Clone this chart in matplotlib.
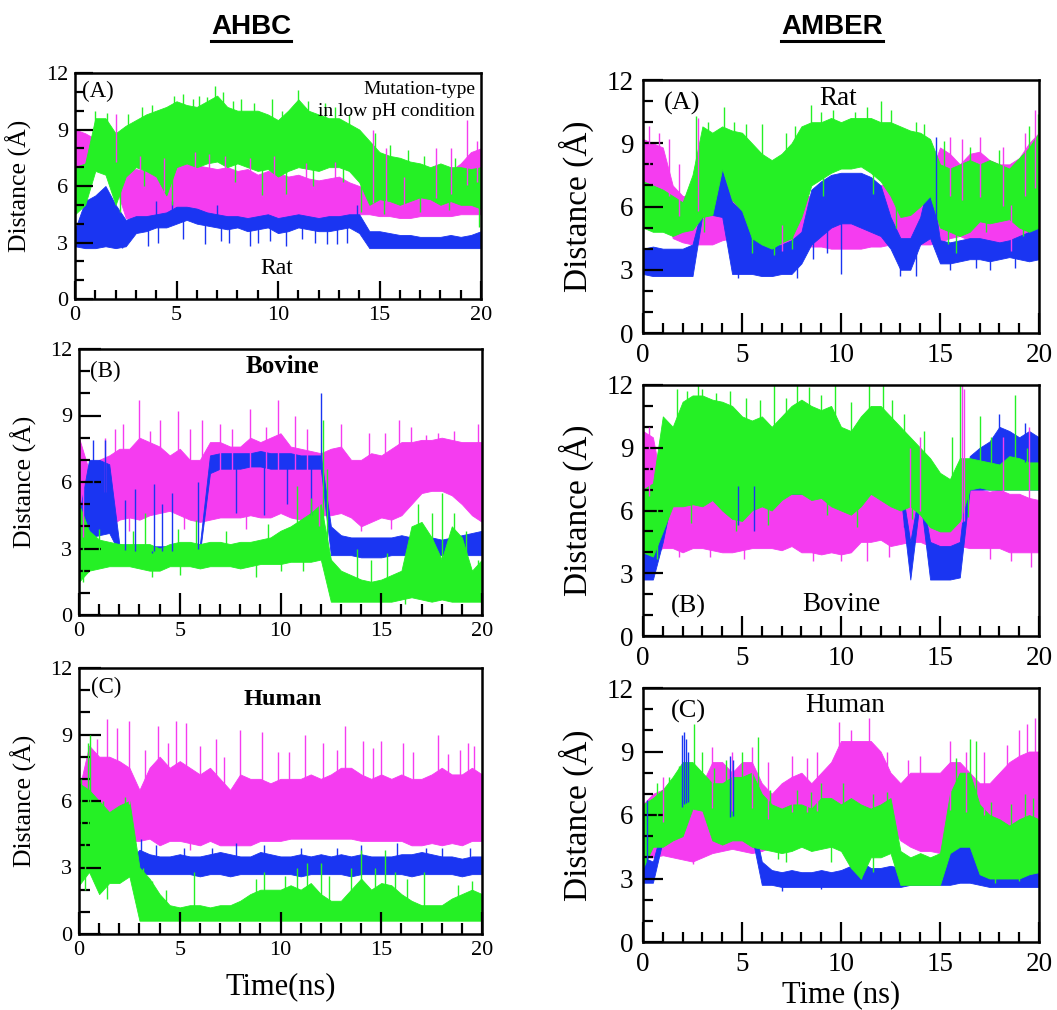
import numpy as np
import matplotlib.pyplot as plt
from matplotlib.lines import Line2D
from matplotlib.ticker import MultipleLocator

plt.rcParams['font.family'] = 'Liberation Serif'

BLUE = '#1a35f2'
MAGENTA = '#f53cf0'
GREEN = '#25f025'

# sampling of the traces (ns), every 0.5 ns
time = np.arange(0, 20.01, 0.5)

# ---------------- AHBC, Rat (A) ----------------
ahbc_rat_blue_lo = [2.8, 2.7, 2.7, 2.8, 2.7, 2.8, 3.5, 3.6, 3.8, 3.8,
                    4.0, 4.2, 4.0, 3.9, 3.8, 3.7, 3.8, 3.6, 3.7, 3.8,
                    3.5, 3.6, 3.8, 3.7, 3.6, 3.6, 3.7, 3.8, 3.5, 2.7,
                    2.7, 2.7, 2.7, 2.7, 2.7, 2.7, 2.7, 2.7, 2.7, 2.7, 2.7]
ahbc_rat_blue_hi = [3.7, 5.2, 5.5, 6.0, 5.0, 4.2, 4.4, 4.4, 4.5, 4.6,
                    4.9, 4.9, 4.8, 4.6, 4.5, 4.4, 4.4, 4.3, 4.4, 4.5,
                    4.3, 4.4, 4.5, 4.4, 4.3, 4.4, 4.4, 4.5, 4.5, 3.6,
                    3.6, 3.5, 3.4, 3.4, 3.3, 3.3, 3.3, 3.4, 3.3, 3.4, 3.6]
ahbc_rat_blue_spk = [(2.3, 2.7), (3.6, 2.8), (4.1, 3.0), (6.4, 2.9), (7.6, 3.0),
                     (8.6, 2.8), (9.0, 3.0), (10.4, 2.8), (11.2, 3.2), (12.4, 2.9),
                     (12.9, 2.9), (13.4, 3.0), (5.3, 3.2), (7.2, 3.1), (9.6, 3.1),
                     (11.8, 3.0), (4.0, 5.2), (4.8, 5.2), (7.0, 5.0), (13.9, 5.0)]
ahbc_rat_mag_lo = [7.0, 7.0, 7.2, 7.2, 6.0, 4.3, 4.2, 4.2, 4.2, 4.4,
                   4.6, 4.5, 4.4, 4.3, 4.3, 4.2, 4.2, 4.2, 4.2, 4.3,
                   4.2, 4.2, 4.3, 4.3, 4.2, 4.2, 4.3, 4.3, 4.5, 4.5,
                   4.4, 4.4, 4.3, 4.3, 4.4, 4.4, 4.4, 4.4, 4.5, 4.5, 4.5]
ahbc_rat_mag_hi = [9.0, 8.8, 8.5, 8.5, 8.5, 6.8, 6.9, 6.8, 6.8, 7.0,
                   7.0, 7.2, 7.1, 7.0, 6.9, 7.0, 6.8, 6.9, 6.6, 6.8,
                   6.7, 6.5, 6.6, 6.4, 6.3, 6.4, 6.5, 6.2, 6.0, 5.8,
                   5.6, 5.4, 5.4, 5.5, 5.8, 6.2, 6.4, 6.8, 7.2, 7.8, 8.0]
ahbc_rat_mag_spk = [(2.0, 9.8), (5.9, 7.8), (7.4, 7.6), (14.7, 9.0), (15.3, 8.0),
                    (17.8, 8.0), (19.3, 9.5), (19.8, 8.4), (3.2, 7.6), (4.4, 7.5),
                    (6.6, 7.7), (8.6, 7.5), (9.8, 7.6), (11.4, 7.2), (12.8, 7.3),
                    (16.2, 6.5), (18.5, 8.0)]
ahbc_rat_green_lo = [4.5, 5.0, 6.8, 6.6, 5.0, 6.5, 7.0, 6.8, 6.5, 5.5,
                     7.0, 7.2, 7.0, 7.2, 7.3, 7.0, 7.2, 7.0, 6.8, 6.9,
                     6.5, 6.8, 7.0, 6.9, 6.8, 7.0, 7.0, 6.8, 6.2, 5.0,
                     5.3, 5.2, 5.0, 5.2, 5.4, 5.3, 5.0, 5.2, 5.0, 5.0, 4.8]
ahbc_rat_green_hi = [7.0, 7.2, 9.6, 9.6, 8.8, 9.2, 9.5, 9.8, 10.0, 10.2,
                     10.5, 10.3, 10.2, 10.5, 10.8, 10.2, 10.0, 10.0, 10.0, 9.8,
                     9.5, 10.0, 10.6, 10.0, 9.8, 9.6, 9.6, 9.3, 9.0, 8.4,
                     7.8, 7.6, 7.5, 7.3, 7.2, 7.0, 7.2, 7.0, 7.0, 6.9, 7.0]
ahbc_rat_green_spk = [(4.9, 10.8), (6.1, 10.8), (6.9, 11.3), (7.3, 11.0), (9.7, 10.6),
                      (11.0, 11.1), (12.3, 10.4), (14.8, 8.8), (1.0, 10.0), (1.6, 9.9),
                      (2.6, 9.8), (3.3, 10.2), (3.8, 10.3), (5.3, 10.9), (5.8, 10.6),
                      (6.5, 10.7), (7.8, 10.5), (8.2, 10.6), (8.8, 10.4), (10.2, 10.0),
                      (11.5, 10.5), (12.8, 10.2), (13.5, 9.8), (15.5, 8.2), (16.4, 7.9),
                      (17.2, 7.6), (18.7, 7.5),
                      (4.8, 5.0), (9.2, 5.5), (10.4, 5.6), (14.1, 4.6), (19.9, 3.8),
                      (2.2, 4.6), (3.4, 6.0), (7.9, 6.2), (11.7, 6.0), (13.2, 6.2),
                      (15.2, 4.5), (17.0, 4.6), (18.4, 4.7)]

# ---------------- AHBC, Bovine (B) ----------------
ahbc_bov_blue_lo = [3.5, 3.5, 3.6, 3.7, 2.8, 2.7, 2.7, 2.7, 2.7, 2.7,
                    2.7, 2.7, 2.8, 6.4, 6.6, 6.6, 6.6, 6.7, 6.7, 6.6,
                    6.6, 6.6, 6.6, 6.6, 6.6, 2.7, 2.7, 2.7, 2.6, 2.6,
                    2.6, 2.7, 2.7, 2.7, 2.7, 2.7, 2.7, 2.7, 2.7, 2.7, 2.7]
ahbc_bov_blue_hi = [4.5, 7.0, 7.0, 6.8, 3.2, 3.1, 3.1, 3.1, 3.1, 3.1,
                    3.1, 3.1, 3.2, 7.2, 7.3, 7.3, 7.3, 7.3, 7.4, 7.3,
                    7.3, 7.3, 7.2, 7.2, 7.2, 4.0, 3.6, 3.5, 3.5, 3.5,
                    3.5, 3.5, 3.6, 3.5, 3.5, 3.5, 3.4, 3.5, 3.6, 3.7, 3.8]
ahbc_bov_blue_spk = [(3.6, 2.8), (4.6, 5.5), (5.9, 6.0), (2.3, 5.2), (2.8, 5.7),
                     (3.7, 5.9), (4.1, 5.0), (7.8, 4.6), (9.2, 4.5), (10.3, 5.0),
                     (11.5, 4.5), (12.0, 10.0), (1.3, 7.9), (0.7, 7.9)]
ahbc_bov_mag_lo = [4.5, 4.3, 4.0, 4.0, 4.3, 4.4, 4.3, 4.5, 4.6, 4.7,
                   4.5, 4.3, 4.2, 4.3, 4.4, 4.4, 4.4, 4.5, 4.4, 4.4,
                   4.6, 4.4, 4.3, 4.4, 4.5, 4.5, 4.6, 4.4, 4.0, 4.2,
                   4.4, 4.3, 4.5, 5.0, 5.5, 5.6, 5.6, 5.4, 5.0, 4.5, 4.2]
ahbc_bov_mag_hi = [8.0, 6.5, 7.0, 7.2, 7.5, 7.5, 8.0, 7.8, 7.6, 7.2,
                   7.5, 7.0, 7.0, 7.8, 7.8, 7.6, 7.6, 8.0, 7.8, 8.0,
                   8.2, 7.6, 7.5, 7.4, 7.3, 7.5, 7.6, 7.0, 7.0, 7.3,
                   7.2, 7.5, 7.8, 7.8, 7.9, 7.9, 8.0, 7.9, 7.8, 7.8, 7.8]
ahbc_bov_mag_spk = [(1.3, 8.0), (2.2, 8.6), (3.0, 9.7), (4.0, 8.8), (4.9, 9.2),
                    (6.1, 8.8), (8.5, 9.3), (9.9, 9.7), (10.7, 9.0), (13.0, 8.6),
                    (15.9, 8.8), (16.5, 8.5), (17.8, 8.2), (19.8, 8.6), (1.8, 8.4),
                    (3.5, 8.3), (5.5, 8.4), (7.0, 8.6), (7.6, 8.4), (9.3, 8.5),
                    (11.3, 8.4), (14.4, 8.2), (15.2, 8.2), (17.2, 8.1), (18.6, 8.3),
                    (0.2, 3.5), (14.0, 3.8), (2.5, 3.8), (5.2, 3.9), (8.3, 3.9),
                    (11.9, 4.0), (15.5, 3.9)]
ahbc_bov_green_lo = [1.5, 2.0, 2.1, 2.2, 2.2, 2.2, 2.1, 2.0, 2.0, 2.2,
                     2.2, 2.2, 2.1, 2.2, 2.2, 2.2, 2.1, 2.2, 2.3, 2.3,
                     2.3, 2.4, 2.4, 2.4, 2.5, 0.6, 0.6, 0.6, 0.6, 0.6,
                     0.6, 0.6, 0.7, 0.8, 0.7, 0.6, 0.7, 0.6, 0.6, 0.6, 0.6]
ahbc_bov_green_hi = [5.0, 3.8, 3.4, 3.3, 3.2, 3.2, 3.2, 3.2, 3.0, 3.2,
                     3.3, 3.3, 3.2, 3.3, 3.3, 3.2, 3.3, 3.3, 3.4, 3.5,
                     3.8, 4.0, 4.3, 4.6, 5.0, 2.5, 2.0, 1.8, 1.6, 1.5,
                     1.6, 1.8, 2.0, 4.0, 4.2, 3.5, 2.5, 4.0, 3.5, 2.0, 2.5]
ahbc_bov_green_spk = [(3.3, 4.6), (5.8, 4.3), (10.8, 5.8), (11.5, 5.3), (12.1, 8.8),
                      (12.3, 6.6), (13.8, 3.0), (15.3, 2.8), (18.0, 5.5), (17.5, 4.6),
                      (19.8, 2.5), (1.0, 3.9), (2.7, 3.8), (4.9, 3.9), (7.3, 3.8),
                      (9.4, 4.1), (14.5, 2.5), (16.8, 5.0), (18.6, 4.6), (19.2, 3.8),
                      (0.2, 1.5), (3.6, 1.7), (8.8, 1.7), (16.2, 0.5), (5.0, 1.8),
                      (10.0, 2.0), (11.1, 2.0)]

# ---------------- AHBC, Human (C) ----------------
ahbc_hum_blue_lo = [3.5, 2.8, 2.7, 2.7, 2.7, 2.7, 2.7, 2.7, 2.7, 2.7,
                    2.7, 2.7, 2.6, 2.7, 2.7, 2.6, 2.7, 2.7, 2.7, 2.7,
                    2.7, 2.7, 2.6, 2.7, 2.7, 2.7, 2.7, 2.6, 2.7, 2.7,
                    2.7, 2.7, 2.7, 2.6, 2.7, 2.7, 2.7, 2.7, 2.6, 2.7, 2.7]
ahbc_hum_blue_hi = [6.5, 4.0, 3.3, 3.3, 3.3, 3.3, 3.8, 3.6, 3.5, 3.5,
                    3.6, 3.5, 3.5, 3.6, 3.7, 3.6, 3.5, 3.5, 3.7, 3.6,
                    3.5, 3.5, 3.6, 3.5, 3.6, 3.5, 3.6, 3.5, 3.6, 3.5,
                    3.5, 3.5, 3.6, 3.6, 3.7, 3.6, 3.5, 3.5, 3.4, 3.5, 3.5]
ahbc_hum_blue_spk = [(3.1, 4.3), (3.8, 4.0), (7.8, 4.1), (9.2, 4.0), (11.0, 3.9),
                     (14.0, 4.0), (15.8, 4.1), (18.0, 3.9), (5.2, 3.9), (6.6, 3.9),
                     (12.8, 3.9), (17.2, 3.9), (19.4, 3.9)]
ahbc_hum_mag_lo = [5.0, 4.5, 4.2, 4.2, 4.5, 4.2, 4.2, 4.3, 4.0, 4.2,
                   4.2, 4.1, 4.0, 4.2, 4.0, 4.0, 4.0, 4.0, 4.2, 4.2,
                   4.2, 4.3, 4.3, 4.3, 4.3, 4.3, 4.3, 4.3, 4.2, 4.2,
                   4.2, 4.2, 4.2, 4.0, 4.0, 4.1, 4.0, 4.1, 4.0, 4.2, 4.2]
ahbc_hum_mag_hi = [6.5, 8.5, 8.0, 8.0, 7.8, 7.5, 6.5, 7.5, 8.0, 7.5,
                   7.8, 7.5, 7.2, 7.5, 7.0, 6.5, 7.2, 7.0, 7.0, 6.8,
                   7.0, 7.0, 7.0, 7.2, 7.0, 7.2, 7.5, 7.5, 7.2, 7.0,
                   7.2, 7.0, 7.2, 7.0, 7.0, 7.2, 7.5, 7.2, 7.2, 7.5, 7.2]
ahbc_hum_mag_spk = [(1.4, 9.7), (1.9, 9.3), (2.5, 9.6), (3.9, 9.4), (4.8, 9.6),
                    (5.3, 9.5), (6.0, 8.5), (6.8, 8.8), (8.0, 9.2), (9.1, 9.1),
                    (9.9, 8.2), (11.2, 9.0), (12.1, 8.6), (13.2, 9.4), (14.1, 8.7),
                    (15.0, 8.7), (16.1, 8.6), (17.8, 9.0), (19.3, 8.6), (19.6, 8.5),
                    (0.9, 8.8), (3.3, 8.3), (4.4, 8.6), (7.2, 8.0), (10.4, 8.2),
                    (12.8, 8.3), (14.6, 8.4), (16.6, 8.2), (18.3, 8.1), (18.9, 8.3),
                    (5.5, 3.8), (9.0, 4.5), (13.1, 4.5), (17.8, 4.6)]
ahbc_hum_green_lo = [2.2, 2.8, 1.8, 2.3, 2.3, 2.6, 0.6, 0.6, 0.6, 0.6,
                     0.6, 0.6, 0.6, 0.6, 0.6, 0.6, 0.6, 0.6, 0.6, 0.6,
                     0.6, 0.6, 0.6, 0.6, 0.6, 0.6, 0.6, 0.6, 0.6, 0.6,
                     0.6, 0.6, 0.6, 0.6, 0.6, 0.6, 0.6, 0.6, 0.6, 0.6, 0.6]
ahbc_hum_green_hi = [6.8, 6.5, 6.0, 5.5, 5.8, 6.0, 3.0, 2.5, 1.8, 1.3,
                     1.2, 1.3, 1.3, 1.2, 1.3, 1.3, 1.5, 1.8, 2.0, 2.0,
                     2.0, 2.2, 2.0, 2.3, 1.8, 1.5, 1.5, 2.0, 2.5, 2.0,
                     2.3, 2.2, 1.8, 1.5, 1.3, 1.3, 1.3, 1.6, 1.8, 2.0, 1.8]
ahbc_hum_green_spk = [(0.55, 9.0), (0.45, 8.6), (0.1, 7.0), (1.2, 6.0), (2.3, 6.2),
                      (3.2, 3.0), (5.7, 2.8), (9.2, 2.8), (10.8, 3.0), (11.3, 3.2),
                      (12.0, 3.2), (14.0, 3.8), (15.2, 3.8), (14.7, 3.0), (17.1, 2.8),
                      (3.6, 2.4), (4.3, 2.0), (8.8, 2.5), (10.2, 2.6), (12.4, 2.6),
                      (13.5, 3.0), (15.7, 2.8), (16.3, 2.5), (18.8, 2.2), (19.5, 2.4),
                      (1.4, 1.6), (0.3, 2.0)]

# ---------------- AMBER, Rat (A) ----------------
amber_rat_blue_lo = [2.8, 2.7, 2.7, 2.7, 2.7, 2.7, 5.6, 5.6, 5.5, 2.8,
                     2.8, 2.8, 2.7, 2.7, 2.8, 2.8, 3.3, 4.2, 4.6, 5.0,
                     5.2, 5.2, 5.0, 4.8, 4.6, 4.0, 3.0, 3.0, 4.2, 4.5,
                     3.3, 3.3, 3.4, 3.5, 3.5, 3.4, 3.5, 3.6, 3.5, 3.4, 3.5]
amber_rat_blue_hi = [4.0, 4.1, 4.0, 4.0, 4.0, 4.2, 6.0, 6.0, 7.8, 6.2,
                     5.8, 4.6, 4.2, 4.1, 4.2, 4.4, 4.8, 6.8, 7.2, 7.5,
                     7.6, 7.6, 7.6, 7.4, 7.0, 5.5, 4.5, 4.5, 5.5, 7.5,
                     4.4, 4.3, 4.4, 4.5, 4.5, 4.4, 4.3, 4.4, 4.6, 4.8, 5.2]
amber_rat_blue_spk = [(10.0, 2.8), (13.0, 2.7), (13.8, 2.7), (17.5, 3.0), (14.8, 9.3),
                      (8.6, 3.5), (9.3, 3.8), (4.8, 2.6), (7.8, 2.6), (15.5, 3.0),
                      (16.8, 3.1), (18.8, 3.1)]
amber_rat_mag_lo = [6.8, 6.8, 6.5, 4.5, 4.3, 4.2, 4.2, 4.2, 4.4, 4.5,
                    4.5, 4.3, 4.3, 4.3, 4.2, 4.2, 4.2, 4.1, 4.1, 4.0,
                    4.0, 4.0, 4.0, 4.1, 4.1, 4.2, 4.2, 4.3, 4.2, 4.2,
                    4.3, 4.5, 4.6, 4.4, 4.3, 4.2, 4.1, 4.0, 4.2, 4.4, 4.5]
amber_rat_mag_hi = [9.2, 9.0, 8.8, 7.0, 6.5, 6.5, 8.0, 7.0, 7.5, 6.5,
                    6.5, 6.2, 5.5, 5.5, 6.0, 6.5, 6.5, 6.5, 6.5, 6.5,
                    6.5, 6.5, 6.5, 6.8, 7.0, 7.2, 7.0, 7.0, 7.5, 7.5,
                    8.8, 8.5, 8.0, 8.5, 8.6, 8.2, 8.0, 8.0, 8.3, 9.0, 9.5]
amber_rat_mag_spk = [(0.3, 9.8), (1.3, 9.2), (2.8, 10.2), (15.5, 9.3), (17.0, 9.3),
                     (19.8, 10.6), (0.8, 9.5), (1.8, 8.0), (16.1, 9.2), (18.2, 8.8),
                     (19.3, 9.5), (7.0, 3.9), (18.6, 3.9)]
amber_rat_green_lo = [5.0, 4.8, 4.8, 4.6, 4.8, 4.9, 5.5, 5.6, 7.8, 6.3,
                      5.8, 4.5, 4.2, 4.0, 4.3, 4.5, 5.5, 7.0, 7.3, 7.6,
                      7.8, 7.8, 7.9, 7.6, 7.2, 6.5, 5.5, 5.6, 6.0, 6.5,
                      5.0, 4.8, 4.6, 4.8, 5.3, 5.2, 5.3, 5.4, 5.0, 4.8, 5.0]
amber_rat_green_hi = [7.2, 7.0, 6.8, 6.5, 6.2, 7.5, 9.8, 9.5, 9.8, 9.6,
                      9.5, 9.0, 8.5, 8.2, 8.5, 9.0, 9.8, 10.0, 10.0, 10.2,
                      10.0, 10.2, 10.2, 10.2, 10.0, 10.0, 9.8, 9.6, 9.5, 9.2,
                      8.0, 7.8, 8.0, 8.2, 8.0, 8.2, 8.0, 7.8, 8.3, 8.8, 9.5]
amber_rat_green_spk = [(2.7, 10.3), (4.1, 10.7), (6.0, 9.9), (8.5, 10.8), (10.7, 10.5),
                       (12.0, 11.0), (13.8, 10.0), (19.95, 10.4), (3.3, 10.0), (4.6, 10.0),
                       (5.2, 9.9), (7.2, 9.5), (7.7, 9.8), (9.0, 10.5), (9.6, 10.6),
                       (11.3, 10.7), (12.5, 10.6), (14.2, 9.9), (15.2, 9.1), (16.5, 8.8),
                       (18.0, 8.7), (19.5, 9.8),
                       (6.6, 3.7), (15.8, 3.8), (3.1, 4.8), (5.5, 3.8), (7.5, 4.0),
                       (9.1, 6.5), (11.6, 6.6), (12.8, 5.0), (15.4, 4.2), (17.3, 4.8),
                       (19.2, 4.6)]

# ---------------- AMBER, Bovine (B) ----------------
amber_bov_blue_lo = [2.7, 2.7, 4.5, 6.8, 6.8, 6.8, 6.8, 6.8, 6.8, 6.8,
                     6.8, 6.8, 6.8, 6.8, 6.8, 6.8, 6.8, 6.8, 6.8, 6.8,
                     6.8, 6.8, 6.8, 6.8, 6.8, 6.8, 6.8, 2.7, 6.6, 2.7,
                     2.7, 2.7, 2.8, 7.0, 7.0, 7.0, 7.0, 7.0, 7.0, 7.0, 7.0]
amber_bov_blue_hi = [4.2, 4.2, 5.5, 7.5, 7.5, 7.5, 7.5, 7.5, 7.5, 7.5,
                     7.5, 7.5, 7.5, 7.5, 7.5, 7.5, 7.5, 7.5, 7.5, 7.5,
                     7.5, 7.5, 7.5, 7.5, 7.5, 7.5, 7.5, 4.5, 7.2, 4.5,
                     4.3, 4.3, 4.5, 8.6, 9.0, 9.3, 10.0, 9.8, 9.5, 9.8, 9.5]
amber_bov_blue_spk = [(5.6, 5.0), (13.2, 5.2), (18.0, 10.6), (19.3, 10.2), (4.8, 5.3)]
amber_bov_mag_lo = [3.5, 4.0, 4.2, 4.2, 4.0, 4.2, 4.2, 4.1, 4.0, 4.0,
                    4.1, 4.2, 4.2, 4.2, 4.1, 4.3, 4.0, 4.0, 3.9, 4.0,
                    3.9, 4.0, 4.5, 4.5, 4.6, 4.3, 4.4, 4.5, 4.5, 4.3,
                    4.3, 4.2, 4.3, 4.2, 4.2, 4.2, 4.2, 4.0, 4.0, 4.0, 4.0]
amber_bov_mag_hi = [9.8, 9.5, 7.0, 6.5, 6.5, 6.8, 6.8, 6.8, 6.5, 6.2,
                    6.5, 6.8, 6.5, 6.2, 6.5, 7.0, 7.2, 7.0, 6.8, 6.5,
                    6.3, 6.2, 6.6, 7.2, 7.5, 7.0, 7.0, 7.2, 7.5, 7.0,
                    6.0, 6.0, 6.5, 7.0, 7.0, 6.9, 7.0, 6.8, 6.8, 6.6, 6.5]
amber_bov_mag_spk = [(16.1, 12.0), (16.2, 11.8), (14.0, 9.5), (13.5, 9.0), (19.5, 10.0),
                     (18.2, 9.5), (0.3, 10.0), (19.6, 3.3), (11.3, 3.6), (10.0, 3.6),
                     (1.8, 3.8), (3.4, 3.8), (5.1, 3.7), (8.6, 3.6), (12.4, 3.8),
                     (17.5, 3.7), (18.6, 3.6)]
amber_bov_green_lo = [4.0, 3.8, 5.0, 6.2, 6.2, 6.3, 6.2, 6.5, 6.0, 5.6,
                      5.5, 6.0, 6.2, 6.0, 6.5, 6.8, 6.8, 6.5, 6.6, 6.2,
                      6.0, 5.8, 6.2, 6.8, 6.5, 6.2, 6.0, 6.2, 5.8, 5.2,
                      5.0, 5.0, 5.5, 7.0, 7.1, 7.0, 7.0, 7.0, 7.0, 7.0, 7.0]
amber_bov_green_hi = [7.0, 7.3, 10.5, 10.0, 11.2, 11.5, 11.5, 11.3, 11.2, 11.0,
                      10.5, 10.3, 10.5, 10.0, 10.5, 11.0, 11.3, 11.0, 10.8, 11.0,
                      10.0, 9.8, 10.5, 11.0, 11.0, 10.5, 10.0, 9.5, 9.0, 8.5,
                      7.8, 7.5, 8.5, 8.5, 8.4, 8.3, 8.2, 8.6, 8.5, 8.3, 8.3]
amber_bov_green_spk = [(1.7, 11.8), (2.8, 12.0), (3.0, 11.8), (6.6, 12.0), (7.8, 12.0),
                       (9.7, 12.0), (11.4, 12.0), (12.1, 12.0), (16.0, 12.0), (18.8, 11.5),
                       (17.0, 10.5), (2.2, 11.7), (3.7, 11.6), (4.4, 11.7), (5.2, 11.4),
                       (5.9, 11.3), (7.2, 11.4), (8.4, 11.9), (9.0, 11.5), (10.5, 11.2),
                       (12.6, 11.3), (13.2, 10.6), (14.2, 9.8), (15.6, 9.5), (17.6, 9.5),
                       (19.4, 9.0),
                       (0.7, 3.7), (16.4, 5.7), (2.4, 5.4), (4.7, 5.0), (6.3, 5.3),
                       (9.3, 5.8), (10.8, 5.2), (13.6, 5.6)]

# ---------------- AMBER, Human (C) ----------------
amber_hum_blue_lo = [2.8, 2.8, 4.8, 5.0, 6.0, 6.5, 6.3, 5.0, 5.0, 5.5,
                     5.0, 5.0, 2.7, 2.7, 2.6, 2.6, 2.6, 2.6, 2.6, 2.6,
                     2.6, 2.6, 2.6, 2.6, 2.6, 2.6, 2.6, 2.7, 2.7, 2.7,
                     2.7, 2.7, 2.8, 2.8, 2.7, 2.6, 2.6, 2.6, 2.6, 2.6, 2.6]
amber_hum_blue_hi = [4.0, 3.8, 5.5, 6.0, 7.0, 7.0, 7.0, 6.0, 6.0, 6.5,
                     6.0, 6.0, 3.8, 3.4, 3.3, 3.4, 3.3, 3.3, 3.4, 3.3,
                     3.4, 3.6, 3.8, 3.5, 3.5, 3.6, 3.5, 3.2, 3.2, 3.2,
                     3.3, 4.2, 4.6, 4.5, 3.5, 3.3, 3.3, 3.3, 3.3, 3.5, 3.5]
amber_hum_blue_spk = [(1.95, 9.8), (2.05, 9.9), (2.15, 9.6), (2.25, 9.0), (0.2, 6.7),
                      (4.4, 8.8), (4.55, 8.6), (7.0, 2.4), (9.0, 2.5)]
amber_hum_mag_lo = [4.0, 4.0, 4.1, 4.0, 3.9, 3.8, 4.0, 4.2, 4.3, 4.4,
                    4.3, 4.2, 4.3, 4.5, 4.6, 4.5, 4.6, 4.6, 4.5, 5.0,
                    5.5, 6.0, 6.0, 6.0, 5.8, 5.5, 4.8, 4.5, 4.3, 4.3,
                    4.2, 4.0, 4.0, 4.2, 4.5, 4.5, 4.6, 4.6, 4.5, 4.5, 4.5]
amber_hum_mag_hi = [6.5, 7.0, 7.2, 7.0, 6.8, 7.0, 7.5, 8.5, 8.5, 8.0,
                    8.5, 8.5, 7.5, 7.0, 7.5, 7.8, 8.0, 7.5, 8.0, 8.5,
                    9.5, 9.5, 9.5, 9.5, 9.0, 8.0, 7.5, 8.0, 8.0, 8.0,
                    8.0, 8.5, 8.5, 8.0, 7.5, 7.5, 8.0, 8.5, 8.8, 9.0, 9.0]
amber_hum_mag_spk = [(3.5, 9.2), (5.5, 9.2), (8.3, 8.7), (8.8, 9.0), (9.9, 10.4),
                     (11.4, 10.6), (10.5, 10.0), (12.3, 9.0), (14.0, 8.8), (15.5, 9.5),
                     (17.2, 9.0), (19.0, 10.0), (19.8, 10.6), (1.0, 7.8), (4.5, 9.0),
                     (6.3, 8.5), (7.5, 8.8), (13.4, 8.6), (16.3, 9.0), (18.4, 9.3),
                     (19.4, 10.3), (2.5, 3.7)]
amber_hum_green_lo = [3.5, 4.5, 4.5, 4.8, 5.0, 6.3, 6.2, 4.8, 4.6, 4.8,
                      4.8, 4.5, 4.4, 4.3, 4.2, 4.3, 4.5, 4.3, 4.4, 4.5,
                      4.3, 3.5, 3.0, 4.0, 4.0, 4.2, 2.7, 2.7, 2.7, 2.7,
                      2.7, 4.2, 4.5, 4.5, 3.2, 3.0, 3.0, 3.0, 3.0, 3.2, 3.3]
amber_hum_green_hi = [6.5, 6.8, 7.2, 7.8, 8.5, 8.5, 8.0, 7.5, 7.5, 7.8,
                      7.8, 8.0, 7.0, 6.5, 6.3, 6.5, 6.5, 6.3, 6.8, 6.8,
                      6.5, 6.8, 6.5, 6.3, 6.5, 6.8, 4.3, 4.0, 4.2, 4.0,
                      4.2, 7.0, 8.0, 8.0, 6.5, 6.0, 5.8, 5.5, 5.8, 6.0, 5.8]
amber_hum_green_spk = [(1.8, 8.3), (2.6, 10.3), (3.0, 9.0), (5.0, 9.0), (5.8, 9.7),
                       (9.0, 7.5), (10.1, 7.5), (16.5, 9.6), (16.8, 9.5), (19.7, 6.8),
                       (0.7, 7.5), (1.3, 7.8), (3.6, 8.2), (4.2, 8.6), (6.4, 7.2),
                       (7.8, 7.2), (8.5, 7.1), (11.6, 7.0), (12.3, 7.1), (15.8, 8.7),
                       (17.6, 6.6), (18.6, 6.5), (19.3, 7.0),
                       (11.0, 3.0), (7.2, 3.8), (6.8, 3.9), (9.5, 3.8), (11.6, 3.3),
                       (17.8, 2.8), (19.0, 2.9)]


def draw_trace(ax, lo, hi, spikes, color):
    lo = np.asarray(lo, dtype=float)
    hi = np.asarray(hi, dtype=float)
    ax.fill_between(time, lo, hi, facecolor=color, edgecolor=color, lw=0.6)
    st = np.array([s[0] for s in spikes])
    sv = np.array([s[1] for s in spikes])
    base = np.interp(st, time, (lo + hi) / 2)
    ax.vlines(st, base, sv, color=color, lw=1.0)


def style_axes(ax, tick_fs, major_len, pad, ylabel_fs, ylabel_x):
    ax.set_xlim(0, 20)
    ax.set_ylim(0, 12)
    ax.xaxis.set_major_locator(MultipleLocator(5))
    ax.xaxis.set_minor_locator(MultipleLocator(1))
    ax.yaxis.set_major_locator(MultipleLocator(3))
    ax.yaxis.set_minor_locator(MultipleLocator(1))
    ax.tick_params(which='both', direction='in', top=False, right=False,
                   width=1.6, labelsize=tick_fs, pad=pad)
    ax.tick_params(which='major', length=major_len)
    ax.tick_params(which='minor', length=major_len / 2)
    for sp in ax.spines.values():
        sp.set_linewidth(1.8)
    ax.set_ylabel('Distance (Å)', fontsize=ylabel_fs)
    ax.yaxis.set_label_coords(ylabel_x, 0.5)


W, H = 1057, 1010
fig = plt.figure(figsize=(W / 100, H / 100), dpi=100)


def rect(x0, y0, x1, y1):
    return [x0 / W, 1 - y1 / H, (x1 - x0) / W, (y1 - y0) / H]


panels = [
    # axes box, traces, text labels, column, major tick length
    (rect(75, 73, 481, 299),
     [(ahbc_rat_mag_lo, ahbc_rat_mag_hi, ahbc_rat_mag_spk, MAGENTA),
      (ahbc_rat_blue_lo, ahbc_rat_blue_hi, ahbc_rat_blue_spk, BLUE),
      (ahbc_rat_green_lo, ahbc_rat_green_hi, ahbc_rat_green_spk, GREEN)],
     [(0.35, 11.0, '(A)', 'left', 16.5, 'normal'),
      (9.95, 1.6, 'Rat', 'center', 17, 'normal')],
     'left', 13),
    (rect(79, 349, 482, 615),
     [(ahbc_bov_mag_lo, ahbc_bov_mag_hi, ahbc_bov_mag_spk, MAGENTA),
      (ahbc_bov_blue_lo, ahbc_bov_blue_hi, ahbc_bov_blue_spk, BLUE),
      (ahbc_bov_green_lo, ahbc_bov_green_hi, ahbc_bov_green_spk, GREEN)],
     [(0.55, 11.0, '(B)', 'left', 16.5, 'normal'),
      (10.1, 11.2, 'Bovine', 'center', 18, 'bold')],
     'left', 16),
    (rect(79, 668, 482, 934),
     [(ahbc_hum_mag_lo, ahbc_hum_mag_hi, ahbc_hum_mag_spk, MAGENTA),
      (ahbc_hum_blue_lo, ahbc_hum_blue_hi, ahbc_hum_blue_spk, BLUE),
      (ahbc_hum_green_lo, ahbc_hum_green_hi, ahbc_hum_green_spk, GREEN)],
     [(0.6, 11.1, '(C)', 'left', 16.5, 'normal'),
      (10.1, 10.6, 'Human', 'center', 17.5, 'bold')],
     'left', 16),
    (rect(643, 80, 1039, 333),
     [(amber_rat_mag_lo, amber_rat_mag_hi, amber_rat_mag_spk, MAGENTA),
      (amber_rat_blue_lo, amber_rat_blue_hi, amber_rat_blue_spk, BLUE),
      (amber_rat_green_lo, amber_rat_green_hi, amber_rat_green_spk, GREEN)],
     [(1.05, 10.9, '(A)', 'left', 19, 'normal'),
      (9.85, 11.1, 'Rat', 'center', 19.5, 'normal')],
     'right', 14.5),
    (rect(643, 385, 1039, 636),
     [(amber_bov_mag_lo, amber_bov_mag_hi, amber_bov_mag_spk, MAGENTA),
      (amber_bov_blue_lo, amber_bov_blue_hi, amber_bov_blue_spk, BLUE),
      (amber_bov_green_lo, amber_bov_green_hi, amber_bov_green_spk, GREEN)],
     [(1.4, 1.4, '(B)', 'left', 19, 'normal'),
      (10.0, 1.5, 'Bovine', 'center', 19.5, 'normal')],
     'right', 14.5),
    (rect(643, 688, 1039, 942),
     [(amber_hum_mag_lo, amber_hum_mag_hi, amber_hum_mag_spk, MAGENTA),
      (amber_hum_blue_lo, amber_hum_blue_hi, amber_hum_blue_spk, BLUE),
      (amber_hum_green_lo, amber_hum_green_hi, amber_hum_green_spk, GREEN)],
     [(1.4, 10.9, '(C)', 'left', 19, 'normal'),
      (10.2, 11.15, 'Human', 'center', 19.5, 'normal')],
     'right', 14.5),
]

axes = []
for box, traces, labels, side, tick_len in panels:
    ax = fig.add_axes(box)
    for lo, hi, spk, col in traces:
        draw_trace(ax, lo, hi, spk, col)
    if side == 'left':
        style_axes(ax, 16, tick_len, 5, 18.5, -0.105)
    else:
        style_axes(ax, 19.5, tick_len, 7, 24, -0.125)
    for x, y, s, ha, fs, fw in labels:
        ax.text(x, y, s, ha=ha, va='center', fontsize=fs, fontweight=fw)
    axes.append(ax)

axes[0].text(19.7, 11.1, 'Mutation-type', ha='right', va='center', fontsize=14)
axes[0].text(19.7, 9.95, 'in low pH condition', ha='right', va='center', fontsize=14)

axes[2].set_xlabel('Time(ns)', fontsize=22)
axes[2].xaxis.set_label_coords(0.5, -0.145)
axes[5].set_xlabel('Time (ns)', fontsize=22)
axes[5].xaxis.set_label_coords(0.5, -0.15)

# column headings, underlined
heads = []
for xc, s in [(251, 'AHBC'), (832, 'AMBER')]:
    heads.append(fig.text(xc / W, 1 - 27 / H, s, ha='center', va='center',
                          family='Liberation Sans', fontweight='bold', fontsize=20))
fig.canvas.draw()
for t in heads:
    bb = t.get_window_extent()
    fig.add_artist(Line2D([bb.x0 / W, bb.x1 / W], [1 - 41 / H, 1 - 41 / H],
                          color='black', lw=2.2, transform=fig.transFigure))

fig.savefig('out.png', dpi=100)
